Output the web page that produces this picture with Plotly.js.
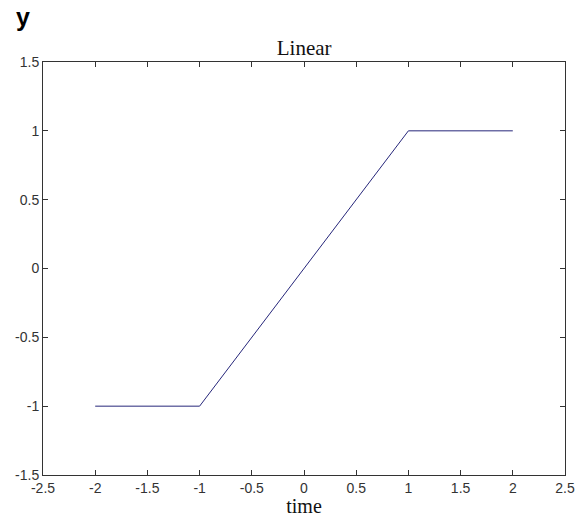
<!DOCTYPE html>
<html>
<head>
<meta charset="utf-8">
<script src="https://cdn.plot.ly/plotly-3.0.1.min.js"></script>
<style>html,body{margin:0;padding:0;background:#fff;}#chart{width:576px;height:517px;}</style>
</head>
<body>
<div id="chart"></div>
<script>
const timeValues = [-2, -1, 1, 2];
const yValues = [-1, -1, 1, 1];
const xTicks = [-2.5, -2, -1.5, -1, -0.5, 0, 0.5, 1, 1.5, 2, 2.5];
const xTickLabels = ['-2.5', '-2', '-1.5', '-1', '-0.5', '0', '0.5', '1', '1.5', '2', '2.5'];
const yTicks = [-1.5, -1, -0.5, 0, 0.5, 1, 1.5];
const yTickLabels = ['-1.5', '-1', '-0.5', '0', '0.5', '1', '1.5'];

const trace = {
  x: timeValues, y: yValues, mode: 'lines', type: 'scatter',
  line: {color: '#26267a', width: 1}, hoverinfo: 'none'
};
const axisCommon = {
  showgrid: false, zeroline: false, showline: true, mirror: 'ticks',
  linecolor: '#333', linewidth: 1, ticks: 'inside', ticklen: 5, tickcolor: '#333',
  tickfont: {family: 'Liberation Sans, Arial, sans-serif', size: 14, color: '#333'},
  tickmode: 'array'
};
const layout = {
  width: 576, height: 517,
  margin: {l: 43, r: 11, t: 62, b: 42},
  paper_bgcolor: '#fff', plot_bgcolor: '#fff',
  showlegend: false,
  title: {text: 'Linear', font: {family: 'Liberation Serif, Times New Roman, serif', size: 21, color: '#111'},
          x: 0.528, xanchor: 'center', y: 0.907, yanchor: 'middle'},
  xaxis: Object.assign({}, axisCommon, {
    range: [-2.5, 2.5], tickvals: xTicks, ticktext: xTickLabels,
    title: {text: 'time', font: {family: 'Liberation Serif, Times New Roman, serif', size: 20, color: '#111'}, standoff: 1}
  }),
  yaxis: Object.assign({}, axisCommon, {
    range: [-1.5, 1.5], tickvals: yTicks, ticktext: yTickLabels
  }),
  annotations: [{
    text: '<b>y</b>', xref: 'paper', yref: 'paper', x: -0.039, y: 1.109,
    xanchor: 'center', yanchor: 'middle', showarrow: false,
    font: {family: 'Liberation Sans, Arial, sans-serif', size: 25, color: '#000'}
  }]
};
Plotly.newPlot('chart', [trace], layout, {displayModeBar: false, staticPlot: true});
</script>
</body>
</html>
